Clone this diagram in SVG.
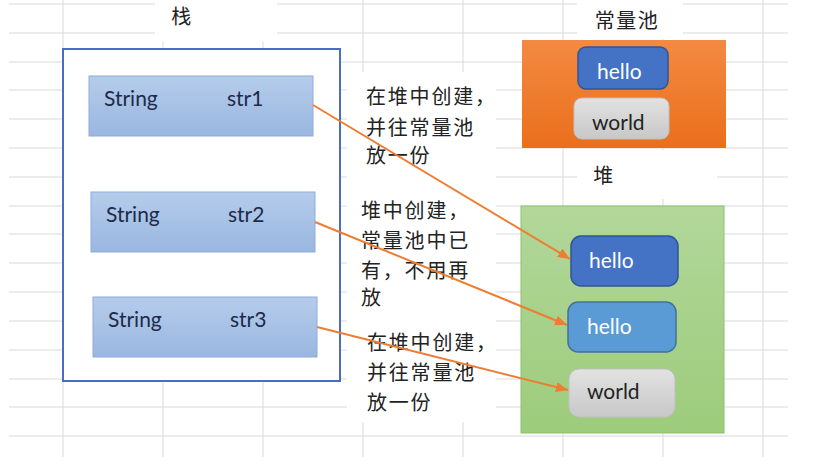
<svg xmlns="http://www.w3.org/2000/svg" width="813" height="464" viewBox="0 0 813 464">
<style>
.grid line{stroke:#d9d9d9;stroke-width:1}
.cover{fill:#ffffff}
.cjk{font-family:"Noto Sans CJK SC","Noto Sans",sans-serif;font-size:20px;fill:#222;letter-spacing:1.8px}
.title{font-family:"Noto Sans CJK SC","Noto Sans",sans-serif;font-size:20px;fill:#222;text-anchor:middle;letter-spacing:1.5px}
.lat{font-family:Lato,"Liberation Sans",sans-serif;font-size:21px;fill:#1c2b4a}
.val{font-family:Lato,"Liberation Sans",sans-serif;font-size:21px}
.w{fill:#ffffff}
.k{fill:#222222}
.var{fill:url(#gBlue);stroke:#8faadc;stroke-width:1}
.conn line{stroke:#ed7d31;stroke-width:2;fill:none}
</style>
<defs>
<linearGradient id="gBlue" x1="0" y1="0" x2="0" y2="1"><stop offset="0" stop-color="#b5cceb"/><stop offset="1" stop-color="#9ab7e0"/></linearGradient>
<linearGradient id="gOrange" x1="0" y1="0" x2="0" y2="1"><stop offset="0" stop-color="#f38a42"/><stop offset="1" stop-color="#ea6f1c"/></linearGradient>
<linearGradient id="gGreen" x1="0" y1="0" x2="0" y2="1"><stop offset="0" stop-color="#b2d79a"/><stop offset="1" stop-color="#9dcc7c"/></linearGradient>
<linearGradient id="gGray" x1="0" y1="0" x2="0" y2="1"><stop offset="0" stop-color="#e2e2e2"/><stop offset="1" stop-color="#c8c8c8"/></linearGradient>
<marker id="ah" markerUnits="userSpaceOnUse" viewBox="0 0 12 10" refX="12" refY="5" markerWidth="12" markerHeight="10" orient="auto"><path d="M0,0 L12,5 L0,10 z" fill="#ed7d31"/></marker>
</defs>
<rect width="813" height="464" fill="#ffffff"/>
<g class="grid">
<line x1="9" y1="4" x2="788" y2="4"/><line x1="9" y1="33" x2="788" y2="33"/><line x1="9" y1="62" x2="788" y2="62"/><line x1="9" y1="90" x2="788" y2="90"/><line x1="9" y1="119" x2="788" y2="119"/><line x1="9" y1="148" x2="788" y2="148"/><line x1="9" y1="177" x2="788" y2="177"/><line x1="9" y1="206" x2="788" y2="206"/><line x1="9" y1="234" x2="788" y2="234"/><line x1="9" y1="263" x2="788" y2="263"/><line x1="9" y1="292" x2="788" y2="292"/><line x1="9" y1="321" x2="788" y2="321"/><line x1="9" y1="350" x2="788" y2="350"/><line x1="9" y1="379" x2="788" y2="379"/><line x1="9" y1="407" x2="788" y2="407"/><line x1="9" y1="436" x2="788" y2="436"/>
<line x1="63" y1="0" x2="63" y2="457"/><line x1="163" y1="0" x2="163" y2="457"/><line x1="263" y1="0" x2="263" y2="457"/><line x1="363" y1="0" x2="363" y2="457"/><line x1="463" y1="0" x2="463" y2="457"/><line x1="563" y1="0" x2="563" y2="457"/><line x1="663" y1="0" x2="663" y2="457"/><line x1="763" y1="0" x2="763" y2="457"/>
</g>
<rect class="cover" x="155" y="0" width="122" height="42"/>
<rect class="cover" x="577" y="0" width="106" height="39"/>
<rect class="cover" x="577" y="150" width="140" height="49"/>
<rect class="cover" x="347" y="72" width="149" height="350"/>
<g id="stack">
<rect x="63" y="49" width="277" height="332" fill="#ffffff" stroke="#4a6cc4" stroke-width="2"/>
<text class="title" x="182" y="24">栈</text>
</g>
<g id="str1"><rect class="var" x="89" y="76" width="224" height="60"/><text class="lat" x="104" y="106">String</text><text class="lat" x="227" y="106">str1</text></g>
<g id="str2"><rect class="var" x="91" y="192" width="224" height="60"/><text class="lat" x="106" y="222">String</text><text class="lat" x="228" y="222">str2</text></g>
<g id="str3"><rect class="var" x="93" y="297" width="224" height="60"/><text class="lat" x="108" y="327">String</text><text class="lat" x="230" y="327">str3</text></g>
<g id="pool">
<rect x="522" y="40" width="204" height="108" fill="url(#gOrange)"/>
<text class="title" x="627" y="28">常量池</text>
</g>
<g id="pool-hello"><rect x="578" y="47" width="90" height="42" rx="8" fill="#4472c4" stroke="#2f5597" stroke-width="1.5"/><text class="val w" x="597" y="79">hello</text></g>
<g id="pool-world"><rect x="574" y="98" width="95" height="41" rx="8" fill="url(#gGray)" stroke="#bfbfbf" stroke-width="1"/><text class="val k" x="592" y="130">world</text></g>
<g id="heap">
<rect x="521" y="206" width="203" height="227" fill="url(#gGreen)" stroke="#8dbf6c" stroke-width="1"/>
<text class="title" x="604" y="183">堆</text>
</g>
<g id="heap-hello1"><rect x="571" y="236" width="107" height="50" rx="10" fill="#4472c4" stroke="#2f5597" stroke-width="1.5"/><text class="val w" x="589" y="268">hello</text></g>
<g id="heap-hello2"><rect x="568" y="302" width="108" height="50" rx="10" fill="#5b9bd5" stroke="#41719c" stroke-width="1.5"/><text class="val w" x="587" y="334">hello</text></g>
<g id="heap-world"><rect x="569" y="369" width="106" height="48" rx="10" fill="url(#gGray)" stroke="#bfbfbf" stroke-width="1"/><text class="val k" x="587" y="399">world</text></g>
<g id="note1"><text class="cjk" x="366" y="104">在堆中创建，</text><text class="cjk" x="366" y="135">并往常量池</text><text class="cjk" x="366" y="163">放一份</text></g>
<g id="note2"><text class="cjk" x="361" y="218">堆中创建，</text><text class="cjk" x="361" y="248">常量池中已</text><text class="cjk" x="361" y="278">有，不用再</text><text class="cjk" x="361" y="305">放</text></g>
<g id="note3"><text class="cjk" x="367" y="350">在堆中创建，</text><text class="cjk" x="367" y="380">并往常量池</text><text class="cjk" x="367" y="410">放一份</text></g>
<g class="conn">
<line x1="313" y1="105" x2="570" y2="259" marker-end="url(#ah)"/>
<line x1="315" y1="222" x2="567" y2="325" marker-end="url(#ah)"/>
<line x1="317" y1="327" x2="568" y2="390" marker-end="url(#ah)"/>
</g>
</svg>
